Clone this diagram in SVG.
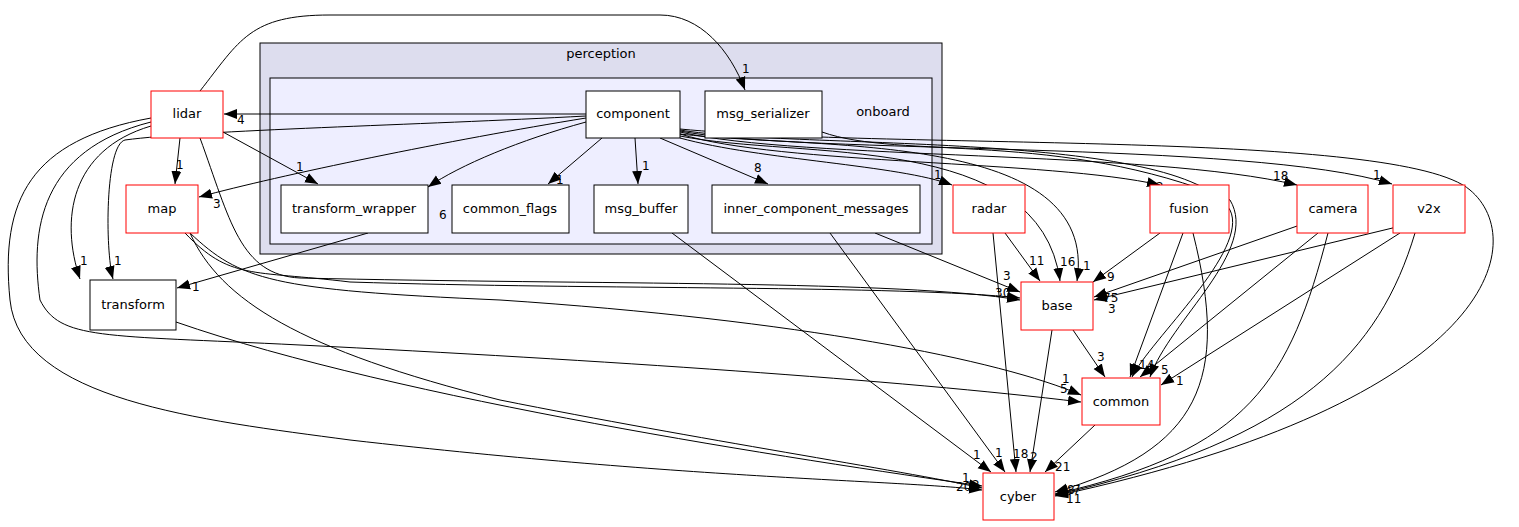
<svg xmlns="http://www.w3.org/2000/svg" width="1519" height="527" viewBox="0 0 1519 527">
<defs>
<marker id="a" markerWidth="14" markerHeight="12" refX="13" refY="6" orient="auto" markerUnits="userSpaceOnUse"><path d="M0,1 L13,6 L0,11 z" fill="#000"/></marker>
</defs>
<style>
text{font-family:"DejaVu Sans",sans-serif;font-size:13px;fill:#000}
.l{font-size:12px}
.n{fill:#fff;stroke:#000;stroke-width:1}
.r{fill:#fff;stroke:#f00;stroke-width:1}
.e path{fill:none;stroke:#000;stroke-width:1;marker-end:url(#a)}
</style>
<rect width="1519" height="527" fill="#fff"/>
<g id="perception"><rect x="260" y="43" width="682" height="211" fill="#ddddee" stroke="#000"/><text x="601" y="58" text-anchor="middle">perception</text></g>
<g id="onboard"><rect x="270" y="78" width="662" height="166" fill="#eeeeff" stroke="#000"/><text x="883" y="116" text-anchor="middle">onboard</text></g>
<g class="e" id="edges">
<path d="M200,91 C240,40 250,15 330,15 L660,15 C700,15 730,50 745,90"/>
<path d="M586,114 L224,114"/>
<path d="M586,122 C520,140 460,165 428,187"/>
<path d="M586,118 C450,140 280,175 199,197"/>
<path d="M586,116 C420,125 200,130 125,140 C105,145 105,250 113,279"/>
<path d="M602,138 L548,184"/>
<path d="M635,138 L638,184"/>
<path d="M660,138 L768,184"/>
<path d="M680,138 C760,160 900,165 952,185"/>
<path d="M680,134 C780,165 1050,160 1160,185"/>
<path d="M680,132 C800,160 1150,150 1297,185"/>
<path d="M680,131 C800,155 1250,140 1392,184"/>
<path d="M680,136 C800,160 1040,130 1060,281"/>
<path d="M680,134 C820,150 1100,130 1077,281"/>
<path d="M680,130 C800,150 1180,130 1230,210 C1250,250 1150,340 1132,377"/>
<path d="M680,129 C900,150 1400,130 1470,190 C1530,240 1500,400 1055,496"/>
<path d="M822,132 C900,160 1060,130 1230,200 C1260,250 1170,320 1150,377"/>
<path d="M180,138 L175,184"/>
<path d="M223,132 L318,184"/>
<path d="M200,138 C230,220 240,275 300,278 C600,285 900,280 1020,300"/>
<path d="M151,126 C70,150 60,220 80,279"/>
<path d="M151,122 C40,150 30,230 40,300 C60,340 100,335 300,345 C600,360 900,380 1081,402"/>
<path d="M151,118 C30,140 0,200 10,300 C20,400 200,420 350,440 C700,480 900,480 982,490"/>
<path d="M185,233 C230,280 250,270 350,282 C600,290 900,285 1020,298"/>
<path d="M190,233 C240,280 270,290 500,300 C800,320 1000,360 1081,395"/>
<path d="M190,233 C220,300 300,350 500,400 C700,440 900,470 982,488"/>
<path d="M368,233 L177,288"/>
<path d="M176,322 C400,400 800,460 982,486"/>
<path d="M672,233 L991,472"/>
<path d="M830,233 L1005,472"/>
<path d="M875,233 L1020,292"/>
<path d="M1005,233 L1040,281"/>
<path d="M993,233 L1016,472"/>
<path d="M1052,330 L1030,472"/>
<path d="M1073,330 L1105,377"/>
<path d="M1095,425 L1045,472"/>
<path d="M1160,233 L1093,282"/>
<path d="M1183,233 L1130,377"/>
<path d="M1193,233 C1230,380 1200,450 1055,492"/>
<path d="M1300,225 L1094,297"/>
<path d="M1318,233 L1140,377"/>
<path d="M1328,233 C1290,380 1250,450 1055,494"/>
<path d="M1405,225 L1094,300"/>
<path d="M1400,233 L1161,385"/>
<path d="M1415,233 C1380,350 1300,440 1055,495"/>
</g>
<g>
<text class="l" x="742" y="73">1</text>
<text class="l" x="237" y="124">4</text>
<text class="l" x="439" y="219">6</text>
<text class="l" x="213" y="208">3</text>
<text class="l" x="114" y="265">1</text>
<text class="l" x="556" y="184">1</text>
<text class="l" x="642" y="170">1</text>
<text class="l" x="754" y="172">8</text>
<text class="l" x="934" y="179">1</text>
<text class="l" x="1156" y="191">2</text>
<text class="l" x="1273" y="180">18</text>
<text class="l" x="1373" y="179">1</text>
<text class="l" x="1060" y="266">16</text>
<text class="l" x="1083" y="270">1</text>
<text class="l" x="176" y="169">1</text>
<text class="l" x="296" y="171">1</text>
<text class="l" x="80" y="265">1</text>
<text class="l" x="1060" y="393">5</text>
<text class="l" x="956" y="491">20</text>
<text class="l" x="995" y="297">30</text>
<text class="l" x="1062" y="383">1</text>
<text class="l" x="972" y="489">2</text>
<text class="l" x="192" y="291">1</text>
<text class="l" x="962" y="482">1</text>
<text class="l" x="973" y="459">1</text>
<text class="l" x="995" y="457">1</text>
<text class="l" x="1003" y="280">3</text>
<text class="l" x="1029" y="265">11</text>
<text class="l" x="1013" y="458">18</text>
<text class="l" x="1030" y="461">2</text>
<text class="l" x="1097" y="361">3</text>
<text class="l" x="1055" y="471">21</text>
<text class="l" x="1107" y="281">9</text>
<text class="l" x="1139" y="369">14</text>
<text class="l" x="1067" y="494">8</text>
<text class="l" x="1103" y="302">75</text>
<text class="l" x="1161" y="374">5</text>
<text class="l" x="1073" y="494">7</text>
<text class="l" x="1108" y="313">3</text>
<text class="l" x="1176" y="385">1</text>
<text class="l" x="1066" y="503">11</text>
</g>
<g id="component"><rect class="n" x="586" y="91" width="94" height="47"/><text x="633" y="118" text-anchor="middle">component</text></g>
<g id="msg_serializer"><rect class="n" x="705" y="91" width="117" height="47"/><text x="763" y="118" text-anchor="middle">msg_serializer</text></g>
<g id="transform_wrapper"><rect class="n" x="281" y="185" width="147" height="48"/><text x="354" y="213" text-anchor="middle">transform_wrapper</text></g>
<g id="common_flags"><rect class="n" x="452" y="185" width="117" height="48"/><text x="510" y="213" text-anchor="middle">common_flags</text></g>
<g id="msg_buffer"><rect class="n" x="594" y="185" width="94" height="48"/><text x="641" y="213" text-anchor="middle">msg_buffer</text></g>
<g id="inner_component_messages"><rect class="n" x="712" y="185" width="208" height="48"/><text x="816" y="213" text-anchor="middle">inner_component_messages</text></g>
<g id="lidar"><rect class="r" x="151" y="91" width="72" height="47"/><text x="187" y="118" text-anchor="middle">lidar</text></g>
<g id="map"><rect class="r" x="126" y="185" width="72" height="48"/><text x="162" y="213" text-anchor="middle">map</text></g>
<g id="transform"><rect class="n" x="90" y="280" width="86" height="50"/><text x="133" y="309" text-anchor="middle">transform</text></g>
<g id="radar"><rect class="r" x="953" y="185" width="72" height="48"/><text x="989" y="213" text-anchor="middle">radar</text></g>
<g id="fusion"><rect class="r" x="1150" y="185" width="79" height="48"/><text x="1189" y="213" text-anchor="middle">fusion</text></g>
<g id="camera"><rect class="r" x="1297" y="185" width="71" height="48"/><text x="1333" y="213" text-anchor="middle">camera</text></g>
<g id="v2x"><rect class="r" x="1393" y="185" width="72" height="48"/><text x="1429" y="213" text-anchor="middle">v2x</text></g>
<g id="base"><rect class="r" x="1021" y="282" width="72" height="48"/><text x="1057" y="310" text-anchor="middle">base</text></g>
<g id="common"><rect class="r" x="1082" y="378" width="78" height="47"/><text x="1121" y="406" text-anchor="middle">common</text></g>
<g id="cyber"><rect class="r" x="983" y="473" width="71" height="47"/><text x="1018" y="501" text-anchor="middle">cyber</text></g>
</svg>
